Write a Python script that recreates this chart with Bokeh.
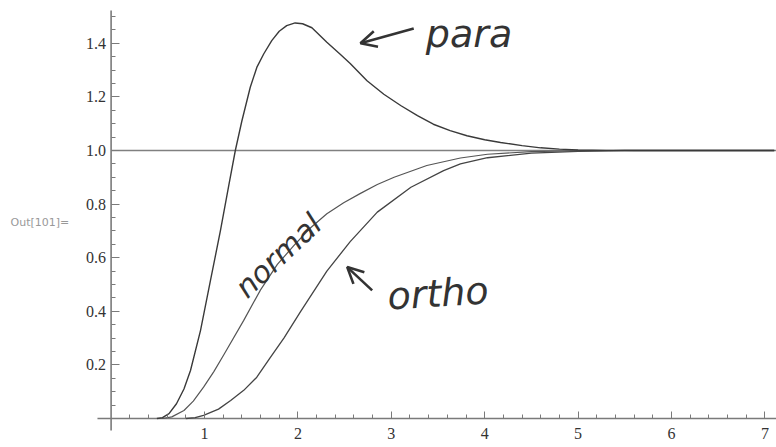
from bokeh.plotting import figure
from bokeh.models import Range1d, FixedTicker, Arrow, OpenHead, NumeralTickFormatter
from bokeh.core.properties import value
from bokeh.embed import file_html
from bokeh.resources import INLINE

# g(r)-style curves for the three cases, sampled along r
para_x = [0.49, 0.55, 0.62, 0.70, 0.78, 0.85, 0.957, 1.064, 1.17, 1.26, 1.33, 1.40, 1.49,
          1.56, 1.635, 1.72, 1.80, 1.88, 1.97, 2.05, 2.15, 2.31, 2.45, 2.56, 2.74, 2.92,
          3.10, 3.28, 3.45, 3.63, 3.81, 4.0, 4.17, 4.4, 4.6, 4.8, 5.0, 5.3, 5.6, 7.1]
para_y = [0.0, 0.003, 0.018, 0.055, 0.11, 0.179, 0.328, 0.515, 0.70, 0.87, 1.0, 1.11, 1.236,
          1.31, 1.361, 1.41, 1.445, 1.466, 1.476, 1.473, 1.458, 1.404, 1.36, 1.325, 1.26, 1.21,
          1.168, 1.13, 1.098, 1.074, 1.055, 1.04, 1.03, 1.018, 1.01, 1.005, 1.002, 1.0005, 1.0, 1.0]

normal_x = [0.55, 0.65, 0.78, 0.88, 0.99, 1.10, 1.21, 1.42, 1.60, 1.78, 1.956, 2.13, 2.31,
            2.49, 2.67, 2.85, 3.03, 3.38, 3.74, 4.03, 4.5, 5.0, 5.5, 7.1]
normal_y = [0.0, 0.006, 0.03, 0.065, 0.117, 0.175, 0.24, 0.366, 0.48, 0.575, 0.645, 0.71, 0.764,
            0.805, 0.84, 0.873, 0.90, 0.944, 0.972, 0.986, 0.996, 0.999, 1.0, 1.0]

ortho_x = [0.80, 0.90, 0.99, 1.15, 1.28, 1.42, 1.56, 1.70, 1.85, 2.03, 2.31, 2.56, 2.85, 3.21,
           3.56, 3.74, 4.03, 4.5, 5.0, 5.5, 7.1]
ortho_y = [0.0, 0.003, 0.012, 0.035, 0.067, 0.105, 0.154, 0.225, 0.30, 0.40, 0.55, 0.66, 0.77,
           0.863, 0.925, 0.95, 0.973, 0.99, 0.997, 1.0, 1.0]

# reference level
ref_level = 1.0

# tick positions
x_major = [1, 2, 3, 4, 5, 6, 7]
x_minor = [round(0.2 * i, 2) for i in range(1, 36)]
y_major = [0.2, 0.4, 0.6, 0.8, 1.0, 1.2, 1.4]
y_minor = [round(0.05 * i, 2) for i in range(1, 31)]

W, H = 776, 447
p = figure(width=W, height=H, output_backend="svg", toolbar_location=None,
           x_range=Range1d(-1.1842, 7.1242), y_range=Range1d(-0.1082, 1.5597),
           min_border=0, min_border_left=0, min_border_right=0,
           min_border_top=0, min_border_bottom=0)
p.outline_line_color = None
p.grid.visible = False
p.background_fill_color = "white"
p.border_fill_color = "white"

axis_col = "#7a7a7a"

# axes crossing at the origin
for ax in (p.xaxis[0], p.yaxis[0]):
    ax.fixed_location = 0
    ax.axis_line_alpha = 0
    ax.major_tick_line_color = axis_col
    ax.minor_tick_line_color = axis_col
    ax.major_tick_line_width = 1
    ax.minor_tick_line_width = 1
    ax.major_tick_out = 0
    ax.minor_tick_out = 0
    ax.major_label_text_font = "Liberation Serif"
    ax.major_label_text_font_size = "16px"
    ax.major_label_text_color = "#333333"

p.xaxis[0].ticker = FixedTicker(ticks=x_major, minor_ticks=x_minor)
p.xaxis[0].major_tick_in = 7
p.xaxis[0].minor_tick_in = 4
p.xaxis[0].major_label_standoff = 9

p.yaxis[0].ticker = FixedTicker(ticks=y_major, minor_ticks=y_minor)
p.yaxis[0].formatter = NumeralTickFormatter(format="0.0")
p.yaxis[0].major_tick_in = 8
p.yaxis[0].minor_tick_in = 4
p.yaxis[0].major_label_standoff = 5

# axis lines, running a little past the origin
p.segment(x0=[-0.146, 0], y0=[0, -0.045], x1=[7.124, 0], y1=[0, 1.522],
          line_color=axis_col, line_width=1.6)

# level line at 1
p.segment(x0=[0], y0=[ref_level], x1=[7.124], y1=[ref_level],
          line_color="#808080", line_width=1.4)

p.line(ortho_x, ortho_y, line_color="#444444", line_width=1.3)
p.line(normal_x, normal_y, line_color="#555555", line_width=1.2)
p.line(para_x, para_y, line_color="#3a3a3a", line_width=1.4)

# hand-written notes
ink = "#333333"
hand = value("DejaVu Sans")
p.text(x=[3.37], y=[1.435], text=["para"], text_font=hand, text_font_style="italic",
       text_font_size="38px", text_color=ink, text_baseline="alphabetic", text_align="left")
p.text(x=[1.79], y=[0.608], text=["normal"], angle=0.76, text_font=hand,
       text_font_style="italic", text_font_size="30px", text_color=ink,
       text_baseline="middle", text_align="center")
p.text(x=[2.96], y=[0.455], text=["ortho"], angle=0.06, text_font=hand,
       text_font_style="italic", text_font_size="38px", text_color=ink,
       text_baseline="alphabetic", text_align="left")

p.add_layout(Arrow(end=OpenHead(size=16, line_width=2.6, line_color=ink),
                   x_start=3.24, y_start=1.455, x_end=2.67, y_end=1.40,
                   line_width=2.6, line_color=ink))
p.add_layout(Arrow(end=OpenHead(size=16, line_width=2.6, line_color=ink),
                   x_start=2.795, y_start=0.478, x_end=2.528, y_end=0.565,
                   line_width=2.6, line_color=ink))

# notebook output marker
p.text(x=[-1.077], y=[0.731], text=["Out[101]="], text_font=value("DejaVu Sans"),
       text_font_size="11px", text_color="#999999", text_baseline="middle", text_align="left")

open("out.html", "w").write(file_html(p, INLINE))
